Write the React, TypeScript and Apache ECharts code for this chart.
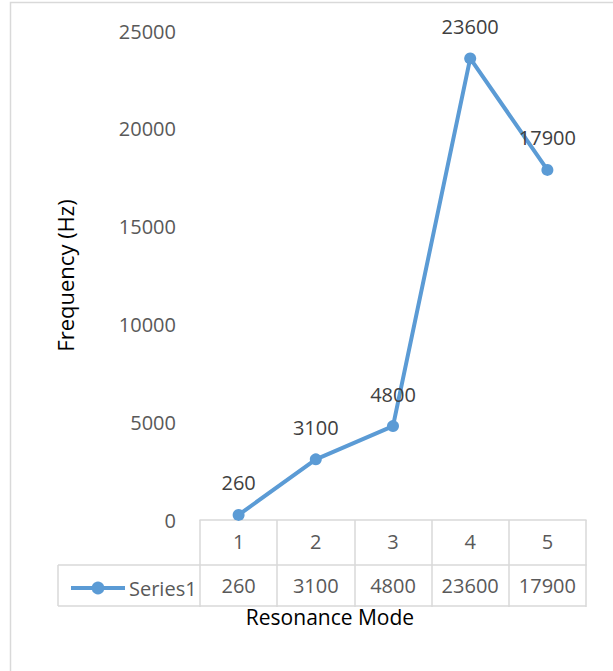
import React, { useEffect, useRef } from "react";
import * as echarts from "echarts";

const categories = ["1", "2", "3", "4", "5"];
const frequencies = [260, 3100, 4800, 23600, 17900];
const seriesName = "Series1";
const yTicks = { min: 0, max: 25000, interval: 5000 };
const xTitle = "Resonance Mode";
const yTitle = "Frequency (Hz)";

const BLUE = "#5b9bd5";
const GRID = "#d9d9d9";
const LABEL = "#595959";
const FONT = "'Open Sans', sans-serif";

export default function App() {
  const ref = useRef<HTMLDivElement>(null);
  useEffect(() => {
    const chart = echarts.init(ref.current!, null, { renderer: "svg" });
    chart.setOption({
      animation: false,
      backgroundColor: "#ffffff",
      textStyle: { fontFamily: FONT },
      grid: { left: 200, right: 27, top: 31, bottom: 151 },
      legend: {
        data: [seriesName],
        left: 64,
        top: 573,
        itemWidth: 54,
        itemHeight: 16,
        itemGap: 4,
        lineStyle: { width: 4 },
        textStyle: { fontSize: 20, color: LABEL, fontFamily: FONT, padding: [0, 0, 0, -1] },
      },
      xAxis: [
        {
          type: "category",
          data: categories,
          boundaryGap: true,
          axisLine: { show: true, lineStyle: { color: GRID, width: 1.5 } },
          axisTick: { show: true, length: 87, lineStyle: { color: GRID, width: 1.5 } },
          axisLabel: { margin: 11, fontSize: 20, color: LABEL, fontFamily: FONT },
          splitLine: { show: false },
        },
        {
          type: "category",
          data: categories,
          position: "bottom",
          offset: 45,
          boundaryGap: true,
          axisLine: { show: true, lineStyle: { color: GRID, width: 1.5 } },
          axisTick: { show: false },
          axisLabel: {
            margin: 10,
            fontSize: 20,
            color: LABEL,
            fontFamily: FONT,
            formatter: (_v: string, i: number) => String(frequencies[i]),
          },
          splitLine: { show: false },
        },
      ],
      yAxis: {
        type: "value",
        min: yTicks.min,
        max: yTicks.max,
        interval: yTicks.interval,
        axisLine: { show: false },
        axisTick: { show: false },
        splitLine: { show: false },
        axisLabel: {
          margin: 24,
          fontSize: 20,
          color: LABEL,
          fontFamily: FONT,
          formatter: (v: number) => String(v),
        },
        name: yTitle,
        nameLocation: "middle",
        nameGap: 124,
        nameTextStyle: { fontSize: 22, color: "#000000", fontFamily: FONT, fontWeight: 400 },
      },
      series: [
        {
          name: seriesName,
          type: "line",
          data: frequencies,
          symbol: "circle",
          symbolSize: 12,
          lineStyle: { color: BLUE, width: 4 },
          itemStyle: { color: BLUE },
          label: {
            show: true,
            position: "top",
            distance: 16,
            fontSize: 20,
            color: "#404040",
            fontFamily: FONT,
          },
        },
      ],
      graphic: [
        {
          type: "rect",
          shape: { x: 10.5, y: 2.5, width: 800, height: 900 },
          style: { fill: "none", stroke: GRID, lineWidth: 1.5 },
          silent: true,
        },
        { type: "line", shape: { x1: 58, y1: 565, x2: 200, y2: 565 }, style: { stroke: GRID, lineWidth: 1.5 } },
        { type: "line", shape: { x1: 58, y1: 606, x2: 586, y2: 606 }, style: { stroke: GRID, lineWidth: 1.5 } },
        { type: "line", shape: { x1: 58, y1: 565, x2: 58, y2: 606 }, style: { stroke: GRID, lineWidth: 1.5 } },
        {
          type: "text",
          x: 330,
          y: 617,
          style: {
            text: xTitle,
            fontSize: 21,
            fontWeight: 500,
            fontFamily: FONT,
            fill: "#000000",
            align: "center",
            verticalAlign: "middle",
          },
        },
      ],
    });
    return () => chart.dispose();
  }, []);
  return (
    <div
      ref={ref}
      style={{ position: "fixed", left: 0, top: 0, width: 613, height: 671 }}
    />
  );
}
